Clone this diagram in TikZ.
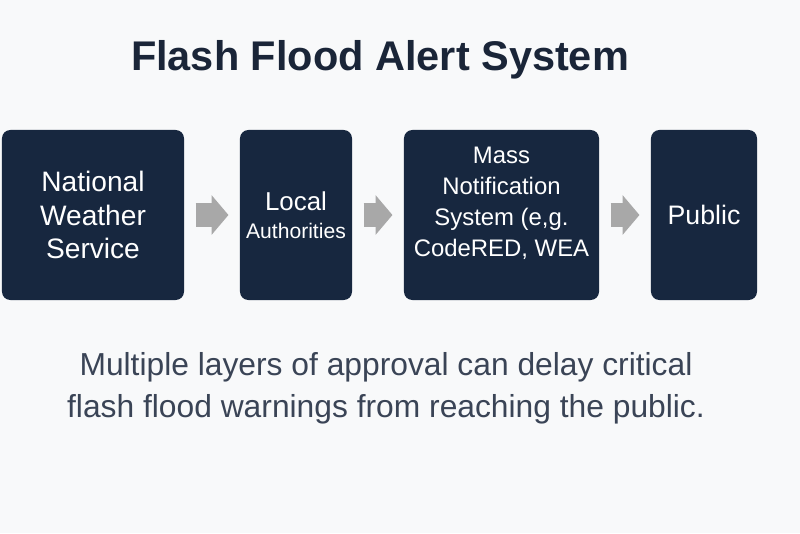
\documentclass[tikz,border=0pt]{standalone}
\usepackage{fontspec}
\setmainfont{Liberation Sans}
\usetikzlibrary{arrows.meta,positioning}
\definecolor{navy}{RGB}{23,39,63}
\definecolor{titlenavy}{RGB}{26,37,56}
\definecolor{notegray}{RGB}{58,68,86}
\definecolor{arrowgray}{RGB}{168,168,168}
\definecolor{bggray}{RGB}{248,249,250}

\begin{document}
\begin{tikzpicture}[x=0.025cm, y=-0.025cm,
  box/.style={rectangle, fill=navy, rounded corners=6pt, minimum height=4.25cm, text=white, align=center, inner sep=0pt},
  boxtext/.style={text=white, align=center, inner sep=0pt},
  flow/.style={-{Triangle[width=27.6pt,length=12pt]}, line width=17pt, draw=arrowgray, shorten <=8pt, shorten >=8pt}]
% background
\fill[bggray] (0,0) rectangle (800,533);

% title
\node[anchor=base, text=titlenavy, font=\bfseries\fontsize{29.5}{34}\selectfont] (title) at (380,70) {Flash Flood Alert System};

% chain of alerts
\node[box, minimum width=4.55cm, font=\fontsize{20}{24}\selectfont] (nws) at (93,215) {National\\Weather\\Service};
\node[box, minimum width=2.8cm, font=\fontsize{15}{20}\selectfont] (local) at (296,215) {{\fontsize{18.4}{20}\selectfont Local}\\Authorities};
\node[box, minimum width=4.875cm] (mns) at (501.5,215) {};
\node[boxtext, font=\fontsize{17}{22}\selectfont] (mnstext) at ([yshift=8.5pt]mns.center) {Mass\\Notification\\System (e,g.\\CodeRED, WEA};
\node[box, minimum width=2.65cm, font=\fontsize{19}{22}\selectfont] (public) at (704,215) {Public};

\draw[flow] (nws) -- (local);
\draw[flow] (local) -- (mns);
\draw[flow] (mns) -- (public);

% note
\node[align=center, text=notegray, font=\fontsize{22.6}{29.8}\selectfont] (warning) at (386,388) {Multiple layers of approval can delay critical\\flash flood warnings from reaching the public.};
\end{tikzpicture}
\end{document}
